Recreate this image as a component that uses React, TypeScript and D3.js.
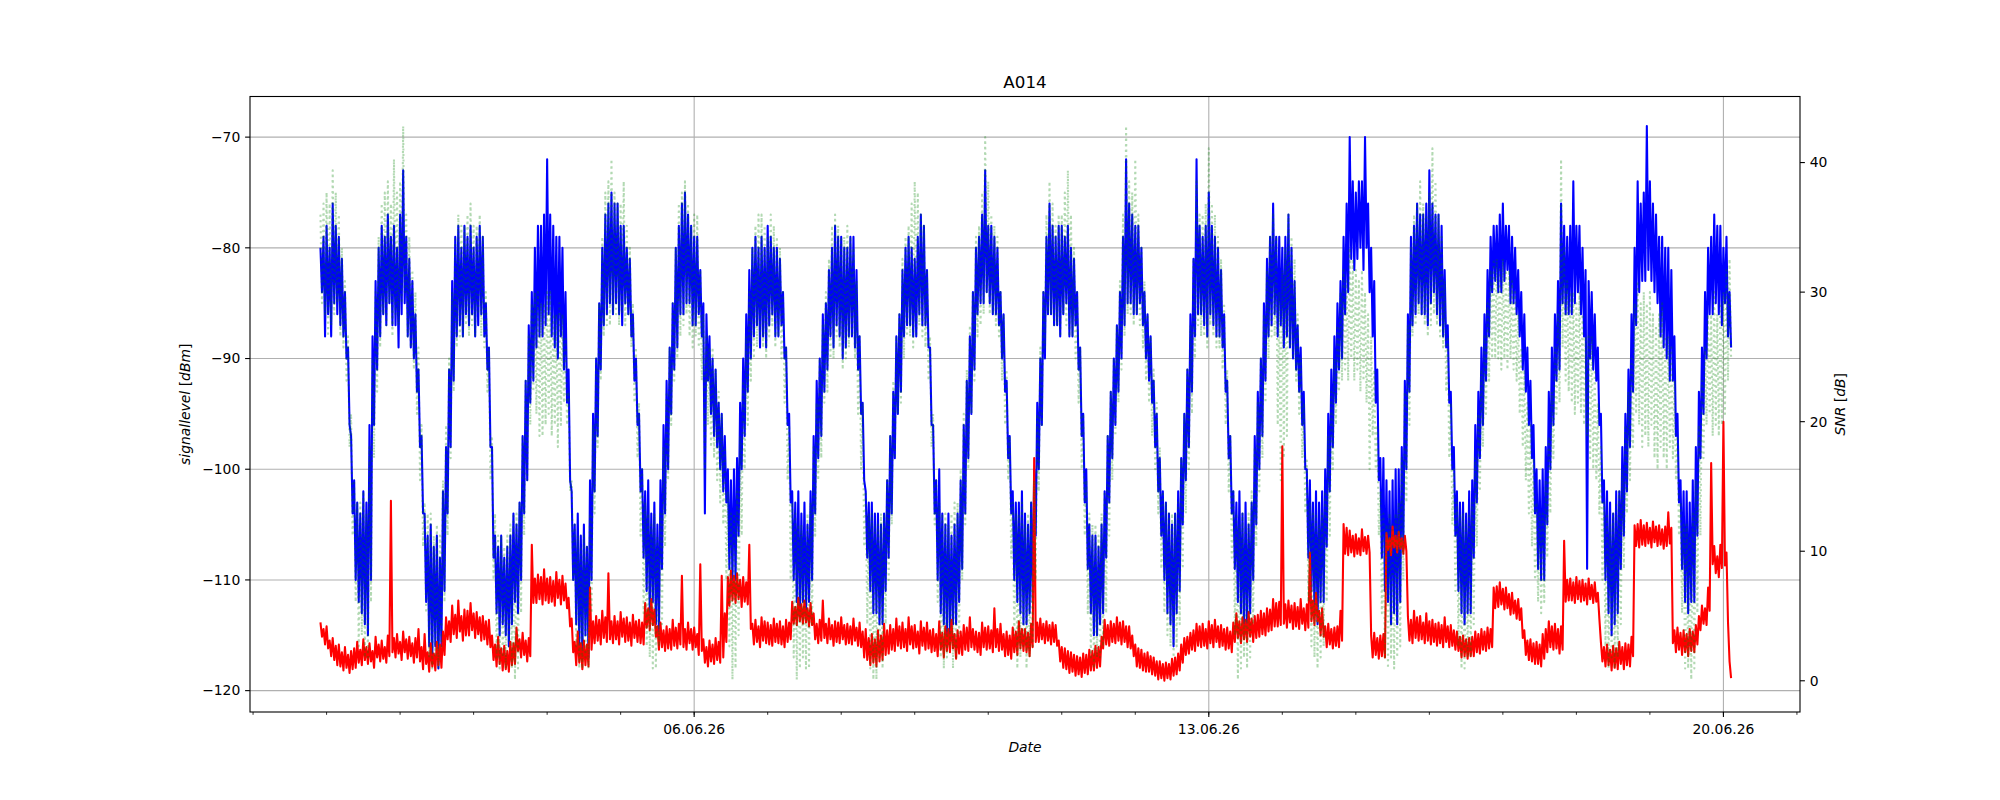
import * as d3 from "d3";

// hourly readings, first hour at startTime; each hour has an upper and a lower reading
// (the upper one at :00, the lower one at :30)
const startTime = "31.05.26 22:00";

// signal level [dBm], blue
const levelHigh = [
  -80, -79, -78, -80, -76, -78, -79, -81, -84, -89, -97, -101, -103, -104, -102, -103, -96, -88, -83, -80, -78, -79, -77, -79,
  -78, -80, -77, -73, -79, -81, -83, -86, -91, -97, -104, -106, -105, -107, -106, -108, -102, -98, -91, -83, -79, -78, -80, -78,
  -79, -78, -80, -79, -78, -79, -85, -89, -98, -106, -107, -106, -108, -107, -106, -104, -105, -103, -97, -92, -87, -84, -80, -78,
  -78, -77, -72, -77, -78, -79, -79, -80, -84, -91, -102, -105, -104, -106, -105, -107, -101, -95, -90, -85, -80, -77, -76, -75,
  -76, -76, -78, -78, -80, -81, -86, -90, -95, -100, -102, -101, -104, -103, -105, -101, -96, -92, -89, -85, -80, -78, -76, -75,
  -77, -78, -79, -79, -82, -85, -86, -88, -90, -91, -94, -95, -97, -100, -101, -100, -99, -94, -90, -86, -82, -80, -79, -80,
  -79, -80, -78, -79, -80, -80, -81, -84, -89, -95, -102, -103, -102, -104, -103, -105, -102, -97, -92, -90, -86, -85, -82, -80,
  -78, -79, -79, -80, -80, -79, -79, -82, -88, -94, -102, -103, -103, -104, -104, -105, -104, -101, -97, -93, -88, -86, -82, -80,
  -79, -80, -81, -79, -77, -78, -82, -89, -96, -101, -100, -104, -105, -104, -106, -105, -104, -101, -96, -92, -88, -84, -80, -79,
  -77, -73, -78, -78, -79, -80, -84, -86, -92, -97, -102, -103, -103, -102, -104, -105, -103, -100, -94, -90, -84, -79, -76, -78,
  -79, -78, -78, -79, -78, -80, -81, -84, -89, -95, -100, -105, -106, -106, -107, -105, -102, -97, -93, -90, -87, -84, -79, -72,
  -76, -77, -78, -78, -80, -84, -86, -88, -92, -95, -99, -102, -103, -104, -105, -104, -102, -99, -95, -91, -86, -81, -72, -78,
  -79, -78, -75, -78, -79, -80, -82, -86, -92, -97, -102, -103, -102, -104, -103, -105, -103, -97, -93, -90, -85, -81, -79, -76,
  -79, -79, -80, -79, -77, -80, -83, -87, -89, -93, -100, -101, -103, -102, -103, -102, -100, -95, -91, -88, -85, -83, -79, -76,
  -70, -74, -75, -74, -74, -70, -76, -80, -83, -91, -99, -99, -101, -102, -101, -100, -100, -98, -92, -86, -79, -78, -76, -77,
  -77, -76, -73, -76, -77, -77, -78, -82, -87, -93, -98, -102, -103, -103, -104, -102, -101, -96, -93, -89, -86, -82, -79, -78,
  -78, -77, -76, -78, -78, -79, -80, -82, -84, -86, -89, -92, -96, -100, -101, -100, -98, -93, -89, -86, -83, -76, -78, -79,
  -78, -74, -78, -78, -80, -82, -83, -84, -86, -89, -95, -101, -102, -103, -104, -102, -102, -98, -95, -91, -86, -80, -74, -76,
  -75, -69, -74, -76, -77, -79, -79, -80, -80, -82, -88, -95, -101, -102, -102, -103, -101, -98, -93, -89, -84, -80, -79, -77,
  -78, -78, -80, -79, -84,
];
const levelLow = [
  -84, -88, -86, -88, -85, -86, -87, -88, -90, -96, -104, -110, -112, -113, -114, -115, -110, -96, -91, -88, -86, -87, -85, -87,
  -87, -89, -86, -85, -88, -89, -90, -93, -98, -104, -112, -116, -117, -116, -118, -116, -111, -104, -98, -92, -88, -87, -88, -86,
  -87, -86, -88, -87, -86, -88, -91, -98, -108, -113, -115, -114, -115, -116, -114, -112, -113, -110, -104, -101, -94, -92, -89, -88,
  -88, -87, -86, -88, -89, -90, -88, -91, -94, -101, -110, -114, -116, -117, -115, -117, -110, -102, -97, -91, -87, -86, -85, -86,
  -85, -86, -87, -85, -86, -88, -92, -96, -102, -108, -111, -113, -112, -114, -115, -109, -104, -100, -95, -91, -89, -86, -86, -85,
  -85, -87, -87, -86, -88, -104, -92, -95, -97, -98, -100, -102, -103, -109, -110, -110, -106, -100, -97, -93, -90, -88, -87, -89,
  -88, -89, -87, -86, -88, -88, -87, -90, -96, -103, -110, -112, -113, -112, -113, -112, -110, -104, -99, -97, -93, -91, -88, -89,
  -87, -88, -90, -89, -88, -88, -89, -91, -95, -101, -108, -111, -113, -113, -114, -114, -111, -108, -104, -99, -95, -93, -88, -87,
  -87, -88, -88, -86, -87, -87, -89, -96, -104, -110, -113, -114, -115, -115, -114, -114, -112, -109, -104, -99, -95, -91, -86, -85,
  -85, -84, -85, -86, -86, -87, -90, -93, -99, -104, -110, -112, -113, -114, -114, -113, -112, -106, -100, -96, -90, -86, -86, -87,
  -87, -88, -86, -85, -88, -88, -87, -91, -97, -103, -109, -113, -115, -115, -114, -113, -108, -103, -99, -96, -93, -90, -87, -85,
  -85, -86, -86, -85, -87, -90, -92, -94, -98, -102, -106, -110, -113, -114, -116, -113, -111, -105, -101, -98, -93, -88, -86, -86,
  -87, -88, -86, -87, -88, -88, -89, -93, -99, -104, -109, -112, -113, -115, -114, -113, -110, -105, -100, -97, -92, -88, -87, -86,
  -88, -87, -89, -88, -89, -90, -91, -93, -96, -100, -108, -111, -113, -114, -112, -112, -107, -102, -98, -94, -91, -90, -86, -84,
  -81, -82, -81, -80, -82, -80, -84, -88, -94, -101, -108, -111, -112, -114, -113, -114, -112, -107, -100, -93, -87, -86, -85, -86,
  -86, -87, -85, -84, -86, -87, -88, -89, -94, -100, -106, -111, -113, -114, -113, -113, -108, -103, -99, -96, -92, -88, -84, -83,
  -84, -84, -83, -82, -85, -85, -86, -88, -91, -93, -96, -99, -104, -109, -110, -110, -105, -100, -96, -92, -91, -85, -86, -86,
  -86, -85, -84, -86, -88, -109, -90, -91, -92, -96, -103, -110, -113, -115, -114, -113, -109, -106, -102, -98, -93, -87, -84, -83,
  -83, -82, -83, -84, -85, -88, -89, -90, -92, -92, -97, -103, -109, -112, -113, -112, -112, -106, -99, -95, -90, -86, -86, -85,
  -86, -87, -85, -88, -89,
];

// second signal level [dBm], green dotted
const level2High = [
  -77, -76, -75, -76, -73, -75, -77, -80, -83, -88, -95, -101, -103, -103, -102, -104, -98, -90, -84, -79, -76, -75, -74, -76,
  -72, -75, -74, -69, -77, -79, -82, -84, -89, -96, -103, -104, -104, -106, -105, -106, -101, -96, -90, -84, -79, -77, -78, -78,
  -77, -76, -78, -78, -77, -79, -84, -89, -97, -104, -106, -106, -107, -106, -105, -104, -104, -103, -97, -92, -88, -85, -84, -84,
  -85, -85, -84, -84, -86, -86, -85, -86, -88, -93, -101, -105, -106, -107, -106, -107, -104, -96, -90, -85, -79, -75, -74, -72,
  -75, -76, -76, -74, -78, -80, -85, -89, -94, -100, -103, -104, -105, -104, -106, -104, -98, -93, -89, -85, -80, -76, -75, -74,
  -76, -78, -77, -77, -82, -86, -88, -89, -89, -91, -93, -95, -98, -102, -104, -104, -102, -97, -92, -88, -84, -80, -78, -77,
  -77, -78, -79, -77, -78, -79, -80, -84, -89, -96, -103, -104, -105, -105, -106, -104, -103, -98, -94, -90, -87, -84, -81, -78,
  -77, -78, -79, -79, -78, -79, -80, -83, -88, -94, -102, -104, -104, -105, -105, -104, -104, -101, -97, -92, -88, -86, -81, -79,
  -78, -76, -74, -75, -77, -78, -82, -88, -95, -101, -103, -104, -104, -105, -104, -103, -103, -100, -95, -91, -87, -84, -79, -78,
  -75, -70, -74, -77, -78, -79, -84, -86, -91, -97, -103, -104, -104, -103, -105, -104, -103, -101, -95, -89, -84, -77, -74, -76,
  -78, -77, -77, -75, -73, -77, -80, -84, -89, -95, -101, -104, -105, -105, -106, -104, -102, -97, -93, -90, -87, -83, -77, -69,
  -74, -75, -72, -77, -80, -83, -86, -88, -91, -94, -98, -102, -103, -104, -104, -104, -103, -99, -95, -91, -87, -81, -74, -77,
  -77, -76, -71, -76, -77, -79, -81, -85, -91, -97, -102, -104, -105, -104, -105, -104, -102, -98, -94, -90, -86, -82, -79, -77,
  -79, -84, -82, -80, -77, -79, -81, -86, -90, -94, -99, -103, -104, -104, -105, -104, -102, -97, -93, -90, -87, -84, -82, -83,
  -80, -81, -82, -83, -82, -84, -86, -88, -91, -96, -102, -104, -105, -104, -105, -104, -103, -99, -93, -87, -80, -77, -76, -74,
  -76, -77, -75, -71, -74, -77, -79, -83, -88, -94, -100, -103, -104, -104, -105, -104, -103, -99, -95, -91, -88, -85, -82, -81,
  -81, -82, -81, -82, -82, -83, -84, -86, -89, -91, -94, -96, -99, -103, -104, -104, -101, -97, -93, -89, -86, -72, -80, -83,
  -84, -84, -85, -84, -86, -88, -88, -88, -91, -94, -98, -103, -104, -105, -104, -103, -102, -100, -96, -93, -90, -85, -83, -85,
  -84, -85, -84, -86, -87, -86, -85, -88, -88, -89, -92, -97, -103, -105, -105, -106, -104, -101, -96, -92, -89, -86, -86, -84,
  -86, -85, -84, -82, -81,
];
const level2Low = [
  -85, -86, -88, -87, -86, -85, -88, -89, -92, -98, -106, -112, -116, -115, -117, -117, -112, -99, -93, -89, -86, -87, -85, -88,
  -86, -87, -85, -84, -88, -89, -91, -95, -101, -107, -113, -117, -118, -117, -118, -116, -112, -106, -99, -93, -89, -88, -88, -87,
  -88, -87, -88, -86, -88, -89, -93, -101, -110, -117, -118, -117, -118, -116, -118, -119, -118, -113, -106, -101, -96, -93, -95, -97,
  -97, -96, -95, -97, -96, -98, -96, -94, -96, -102, -110, -116, -118, -118, -117, -118, -113, -104, -98, -92, -88, -87, -87, -86,
  -86, -87, -86, -87, -86, -89, -94, -99, -106, -113, -116, -117, -118, -118, -116, -114, -107, -101, -96, -92, -90, -88, -87, -86,
  -88, -89, -88, -89, -92, -100, -96, -98, -99, -101, -103, -105, -110, -116, -119, -118, -115, -106, -100, -96, -92, -90, -89, -88,
  -89, -90, -88, -87, -89, -88, -90, -94, -101, -110, -117, -119, -118, -117, -118, -118, -114, -106, -101, -99, -94, -93, -90, -90,
  -88, -89, -91, -90, -89, -88, -90, -95, -100, -107, -114, -118, -119, -119, -117, -118, -114, -110, -105, -99, -95, -94, -90, -88,
  -88, -89, -88, -87, -88, -89, -92, -98, -105, -112, -117, -118, -117, -116, -118, -117, -115, -110, -105, -100, -95, -92, -88, -87,
  -86, -84, -86, -86, -87, -88, -92, -96, -101, -108, -115, -118, -117, -116, -118, -117, -116, -110, -102, -96, -89, -86, -86, -87,
  -87, -88, -86, -87, -88, -88, -90, -94, -100, -106, -113, -117, -118, -117, -117, -116, -113, -106, -101, -97, -94, -91, -88, -86,
  -86, -87, -86, -87, -89, -92, -94, -97, -100, -104, -109, -113, -115, -116, -117, -116, -114, -109, -104, -100, -95, -90, -87, -88,
  -88, -89, -87, -88, -89, -89, -91, -96, -102, -108, -115, -119, -118, -117, -118, -117, -114, -107, -102, -99, -94, -90, -88, -88,
  -96, -101, -99, -97, -89, -90, -92, -95, -99, -104, -112, -116, -117, -118, -117, -116, -112, -106, -100, -96, -93, -92, -91, -92,
  -90, -92, -91, -93, -92, -94, -100, -97, -100, -106, -113, -117, -118, -117, -118, -117, -116, -110, -103, -96, -88, -87, -86, -86,
  -87, -88, -87, -86, -87, -88, -89, -93, -99, -105, -111, -116, -118, -118, -117, -117, -114, -107, -102, -98, -95, -92, -90, -90,
  -90, -91, -90, -91, -90, -91, -92, -95, -98, -101, -104, -107, -110, -112, -113, -112, -108, -104, -99, -95, -94, -89, -92, -93,
  -94, -95, -94, -95, -96, -97, -99, -100, -101, -104, -110, -116, -118, -117, -118, -117, -114, -109, -104, -101, -98, -95, -96, -98,
  -97, -98, -96, -99, -100, -98, -99, -100, -98, -99, -101, -106, -113, -118, -118, -119, -118, -113, -106, -99, -96, -95, -97, -96,
  -97, -96, -95, -92, -90,
];

// SNR [dB], red
const snrHigh = [
  4.5, 4.0, 4.2, 3.1, 3.3, 2.7, 2.8, 2.2, 2.6, 2.0, 2.3, 2.5, 3.0, 2.4, 3.2, 2.6, 2.9, 2.3, 3.4, 2.8, 3.1, 2.6, 3.5, 13.9,
  3.3, 3.6, 3.0, 3.8, 3.2, 3.4, 2.9, 3.3, 4.0, 2.6, 3.6, 2.2, 2.9, 2.1, 3.0, 2.8, 3.8, 4.9, 4.6, 5.8, 5.1, 6.2, 5.0, 5.5,
  5.4, 6.0, 5.2, 5.3, 4.9, 5.0, 4.6, 4.7, 3.5, 2.8, 3.4, 2.5, 2.7, 2.3, 3.0, 2.9, 4.1, 3.2, 3.7, 3.1, 3.3, 10.5, 7.9, 8.2,
  8.0, 8.6, 7.9, 8.0, 7.7, 8.4, 7.8, 8.1, 7.5, 6.4, 4.8, 3.0, 3.8, 2.9, 3.1, 2.8, 7.2, 4.6, 5.0, 4.7, 5.4, 4.9, 8.3, 4.6,
  5.0, 4.6, 5.3, 4.8, 4.9, 4.5, 5.1, 4.6, 4.7, 4.5, 6.0, 5.6, 6.3, 5.5, 4.2, 4.5, 3.9, 4.2, 4.0, 4.7, 4.1, 4.4, 8.1, 4.0,
  4.5, 4.0, 4.1, 3.6, 9.0, 3.2, 2.6, 3.1, 2.8, 3.3, 3.0, 8.1, 5.2, 8.0, 8.5, 8.1, 8.3, 7.8, 8.0, 7.6, 10.5, 4.4, 4.7, 4.2,
  4.9, 4.6, 4.5, 4.3, 4.8, 4.4, 4.6, 4.2, 4.7, 4.5, 6.1, 5.7, 6.4, 5.9, 6.2, 5.6, 6.0, 5.2, 4.4, 4.7, 6.2, 4.4, 4.8, 4.3,
  4.6, 4.5, 4.9, 4.3, 4.4, 4.2, 4.8, 4.1, 4.5, 3.8, 4.0, 3.3, 3.6, 3.2, 3.9, 3.5, 4.4, 3.9, 4.3, 4.0, 4.8, 4.2, 4.5, 4.0,
  4.9, 4.2, 4.3, 3.8, 4.6, 4.1, 4.5, 3.9, 4.0, 3.6, 4.6, 3.7, 4.2, 4.0, 4.7, 3.6, 3.9, 3.8, 4.3, 4.1, 4.9, 4.0, 3.8, 3.7,
  4.5, 4.1, 4.2, 3.9, 5.6, 4.0, 4.4, 3.6, 3.8, 3.5, 4.1, 3.8, 4.6, 4.0, 4.0, 3.7, 4.4, 17.2, 4.5, 4.8, 4.4, 4.6, 4.3, 4.5,
  4.3, 3.1, 2.6, 2.5, 2.3, 2.2, 2.0, 1.9, 1.8, 2.1, 2.0, 2.4, 2.3, 2.7, 2.6, 3.4, 4.7, 4.3, 4.6, 4.4, 4.9, 4.5, 4.6, 4.2,
  4.2, 3.5, 2.8, 2.5, 2.4, 2.1, 2.2, 1.9, 1.8, 1.5, 1.5, 1.3, 1.4, 1.3, 1.7, 1.8, 2.1, 2.8, 3.3, 3.4, 3.7, 3.9, 4.4, 4.2,
  4.4, 4.0, 4.6, 4.3, 4.7, 4.2, 4.3, 4.0, 4.1, 3.8, 4.5, 5.2, 4.6, 4.9, 4.7, 5.3, 4.8, 5.0, 5.1, 5.4, 5.2, 5.6, 5.5, 6.3,
  6.0, 6.1, 18.1, 5.9, 6.2, 5.8, 6.0, 5.7, 6.3, 5.6, 5.9, 9.9, 6.2, 6.8, 5.4, 5.6, 4.2, 4.4, 4.0, 4.1, 4.2, 5.4, 12.1, 11.8,
  11.6, 11.2, 11.3, 11.0, 11.7, 11.1, 11.2, 3.5, 3.7, 3.3, 3.5, 3.6, 11.4, 11.0, 11.9, 11.2, 11.5, 11.0, 11.2, 5.0, 4.7, 5.4, 4.9, 5.0,
  4.5, 5.2, 4.6, 4.7, 4.4, 4.5, 4.3, 4.9, 4.2, 4.3, 3.9, 3.8, 3.4, 3.5, 3.2, 3.3, 3.4, 3.8, 3.6, 4.0, 3.8, 4.1, 4.0, 7.2,
  7.3, 7.6, 7.1, 7.2, 6.7, 6.8, 6.2, 6.3, 5.6, 3.9, 3.1, 3.2, 2.9, 3.0, 2.8, 3.6, 4.0, 4.6, 4.2, 4.4, 4.0, 4.2, 10.8, 7.8,
  7.9, 7.6, 8.0, 7.7, 7.8, 7.5, 7.9, 7.4, 7.6, 6.8, 3.0, 2.6, 2.8, 2.4, 2.7, 2.5, 3.0, 2.6, 2.9, 2.8, 3.4, 12.0, 12.1, 12.4,
  12.0, 12.2, 11.8, 12.3, 11.9, 12.0, 11.7, 11.9, 13.0, 11.8, 3.9, 4.1, 3.7, 3.9, 3.6, 4.0, 3.8, 4.3, 5.0, 5.8, 5.6, 7.2, 16.8, 10.4,
  9.6, 10.5, 20.0, 9.9, 1.5,
];
const snrLow = [
  3.4, 2.8, 2.5, 1.9, 1.6, 1.2, 1.1, 0.8, 1.0, 0.6, 0.9, 1.0, 1.4, 1.2, 1.6, 1.3, 1.5, 1.0, 1.8, 1.5, 1.7, 1.4, 1.9, 2.2,
  1.8, 2.1, 1.6, 2.2, 1.7, 1.9, 1.4, 1.8, 1.5, 0.9, 1.3, 0.7, 1.1, 0.8, 1.2, 1.0, 2.0, 3.2, 3.0, 3.6, 3.3, 3.8, 3.1, 3.5,
  3.5, 3.9, 3.3, 3.6, 3.1, 3.2, 2.8, 2.6, 1.6, 1.1, 1.3, 0.8, 0.9, 0.7, 1.2, 1.3, 2.3, 1.8, 2.0, 1.5, 1.9, 6.0, 6.0, 6.3,
  5.9, 6.2, 6.0, 6.1, 5.8, 6.4, 5.9, 6.2, 5.6, 4.2, 2.2, 1.2, 1.4, 0.9, 1.2, 1.1, 2.4, 2.9, 3.1, 2.8, 3.3, 3.0, 3.2, 2.9,
  3.2, 2.8, 3.4, 3.0, 3.1, 2.7, 3.3, 3.0, 2.9, 2.8, 4.1, 3.9, 4.3, 3.4, 2.4, 2.6, 2.3, 2.5, 2.4, 2.7, 2.5, 2.8, 2.6, 2.4,
  2.9, 2.4, 2.6, 2.0, 2.3, 1.4, 1.1, 1.5, 1.3, 1.6, 1.4, 1.8, 3.0, 5.8, 6.2, 6.0, 6.3, 5.7, 6.1, 5.9, 4.0, 2.8, 3.0, 2.6,
  3.1, 2.9, 2.8, 2.7, 3.0, 2.9, 2.8, 2.6, 3.0, 3.2, 4.4, 4.3, 4.6, 4.4, 4.5, 4.2, 4.3, 3.2, 2.9, 3.1, 3.3, 2.9, 3.2, 2.7,
  3.0, 2.9, 3.2, 2.8, 2.9, 2.8, 3.1, 2.7, 2.6, 1.8, 1.6, 1.2, 1.4, 1.1, 1.5, 1.6, 2.0, 2.1, 2.4, 2.3, 2.7, 2.5, 2.6, 2.3,
  2.8, 2.5, 2.6, 2.1, 2.7, 2.4, 2.5, 2.2, 2.3, 1.9, 2.4, 1.8, 2.3, 2.2, 2.5, 1.7, 2.1, 2.0, 2.4, 2.3, 2.6, 2.4, 2.2, 2.0,
  2.6, 2.4, 2.5, 2.2, 2.6, 2.3, 2.4, 1.9, 2.0, 1.7, 2.2, 2.0, 2.5, 2.3, 2.2, 1.9, 2.6, 3.0, 3.0, 3.2, 2.9, 3.1, 2.8, 3.0,
  2.7, 1.5, 1.0, 0.9, 0.6, 0.7, 0.4, 0.5, 0.3, 0.6, 0.5, 0.8, 0.8, 1.0, 1.1, 2.5, 2.8, 2.7, 3.0, 2.9, 3.1, 2.8, 3.0, 2.6,
  2.5, 1.9, 1.1, 1.0, 0.8, 0.7, 0.7, 0.5, 0.4, 0.1, 0.2, 0.0, 0.2, 0.1, 0.4, 0.5, 0.8, 1.4, 2.0, 2.1, 2.4, 2.3, 2.7, 2.6,
  2.7, 2.5, 2.9, 2.6, 3.0, 2.6, 2.7, 2.4, 2.5, 2.2, 3.0, 3.3, 2.9, 3.2, 3.0, 3.4, 3.0, 3.3, 3.4, 3.6, 3.5, 3.8, 3.9, 4.2,
  4.2, 4.3, 4.4, 4.1, 4.5, 4.0, 4.2, 4.0, 4.4, 3.9, 4.1, 4.6, 4.3, 4.6, 3.5, 3.4, 2.6, 2.8, 2.5, 2.7, 2.6, 3.1, 9.8, 9.7,
  9.9, 9.6, 9.8, 9.7, 10.0, 9.8, 9.9, 1.8, 2.0, 1.7, 1.9, 1.8, 10.1, 9.7, 10.3, 9.9, 10.2, 9.8, 10.0, 3.1, 2.9, 3.3, 3.1, 3.2,
  2.9, 3.1, 2.8, 3.0, 2.7, 2.9, 2.6, 3.0, 2.6, 2.7, 2.4, 2.3, 1.8, 1.9, 1.7, 1.9, 1.9, 2.2, 2.1, 2.4, 2.3, 2.5, 2.6, 5.6,
  5.7, 5.9, 5.5, 5.6, 5.1, 5.2, 4.8, 4.7, 3.3, 2.0, 1.6, 1.5, 1.3, 1.3, 1.1, 1.7, 2.2, 2.6, 2.4, 2.5, 2.1, 2.4, 6.1, 6.2,
  6.2, 6.0, 6.3, 6.1, 6.2, 5.9, 6.3, 6.0, 6.1, 4.8, 1.5, 1.1, 1.2, 0.8, 1.0, 0.9, 1.3, 0.9, 1.2, 1.1, 1.9, 10.4, 10.3, 10.5,
  10.4, 10.6, 10.3, 10.7, 10.4, 10.5, 10.2, 10.4, 10.6, 2.9, 2.2, 2.4, 2.0, 2.2, 1.9, 2.3, 2.2, 2.8, 3.9, 4.4, 4.3, 5.4, 9.0, 8.3,
  8.0, 8.7, 8.9, 4.5, 0.2,
];

const dateTickLabels = ["06.06.26", "13.06.26", "20.06.26"];
const levelTicks = [-120, -110, -100, -90, -80, -70];
const snrTicks = [0, 10, 20, 30, 40];

const W = 2000;
const H = 800;
const left = 250;
const right = 1800;
const top = 96.5;
const bottom = 712;
const font = "DejaVu Sans, sans-serif";

const minus = (v: number) => (v < 0 ? "\u2212" + Math.abs(v) : String(v));

type Pt = { t: Date; v: number };

export default function App() {
  const t0 = d3.timeParse("%d.%m.%y %H:%M")(startTime)!;
  // upper reading at :00, lower reading at :30 of each hour
  const trace = (hi: number[], lo: number[]): Pt[] =>
    hi.flatMap((v, i) => [
      { t: d3.timeHour.offset(t0, i), v },
      { t: d3.timeMinute.offset(t0, i * 60 + 30), v: lo[i] },
    ]);
  const blue = trace(levelHigh, levelLow);
  const green = trace(level2High, level2Low);
  const red = trace(snrHigh, snrLow);

  const tEnd = d3.timeHour.offset(t0, levelHigh.length - 1);
  const pad = (+tEnd - +t0) * 0.05;
  const x = d3
    .scaleTime()
    .domain([new Date(+t0 - pad), new Date(+tEnd + pad)])
    .range([left, right]);
  const yL = d3.scaleLinear().domain([-121.93, -66.33]).range([bottom, top]);
  const yR = d3.scaleLinear().domain([-2.41, 45.1]).range([bottom, top]);

  const parseDay = d3.timeParse("%d.%m.%y");
  const majorTicks = dateTickLabels.map((s) => ({ d: parseDay(s)!, s }));
  const [d0, d1] = x.domain();
  const minorTicks = d3.timeDay.range(d3.timeDay.ceil(d0), d1);

  const lineL = d3
    .line<Pt>()
    .x((d) => x(d.t))
    .y((d) => yL(d.v));
  const lineR = d3
    .line<Pt>()
    .x((d) => x(d.t))
    .y((d) => yR(d.v));

  return (
    <svg
      width={W}
      height={H}
      style={{ position: "absolute", left: 0, top: 0, background: "#fff" }}
      fontFamily={font}
    >
      <defs>
        <clipPath id="plot">
          <rect x={left} y={top} width={right - left} height={bottom - top} />
        </clipPath>
      </defs>
      <rect width={W} height={H} fill="#fff" />

      {/* grid */}
      {levelTicks.map((v) => (
        <line key={"gy" + v} x1={left} x2={right} y1={yL(v)} y2={yL(v)} stroke="#b0b0b0" strokeWidth={1.1} />
      ))}
      {majorTicks.map((m) => (
        <line key={"gx" + m.s} x1={x(m.d)} x2={x(m.d)} y1={top} y2={bottom} stroke="#b0b0b0" strokeWidth={1.1} />
      ))}

      <g clipPath="url(#plot)" fill="none" strokeLinejoin="round">
        <path d={lineL(blue) || ""} stroke="#0000ff" strokeWidth={2.08} />
        <path d={lineR(red) || ""} stroke="#ff0000" strokeWidth={2.08} />
        <path
          d={lineL(green) || ""}
          stroke="#008000"
          strokeOpacity={0.3}
          strokeWidth={2.08}
          strokeDasharray="2.1 3.4"
        />
      </g>

      {/* spines */}
      <rect x={left} y={top} width={right - left} height={bottom - top} fill="none" stroke="#000" strokeWidth={1.1} />

      {/* left axis */}
      {levelTicks.map((v) => (
        <g key={"ly" + v}>
          <line x1={left - 4.9} x2={left} y1={yL(v)} y2={yL(v)} stroke="#000" strokeWidth={1.1} />
          <text x={left - 9.7} y={yL(v)} dy="0.35em" textAnchor="end" fontSize={13.9}>
            {minus(v)}
          </text>
        </g>
      ))}
      <text transform={`translate(190,${(top + bottom) / 2}) rotate(-90)`} textAnchor="middle" fontSize={13.9}>
        <tspan fontStyle="italic">signallevel</tspan> [<tspan fontStyle="italic">dBm</tspan>]
      </text>

      {/* right axis */}
      {snrTicks.map((v) => (
        <g key={"ry" + v}>
          <line x1={right} x2={right + 4.9} y1={yR(v)} y2={yR(v)} stroke="#000" strokeWidth={1.1} />
          <text x={right + 9.7} y={yR(v)} dy="0.35em" textAnchor="start" fontSize={13.9}>
            {minus(v)}
          </text>
        </g>
      ))}
      <text transform={`translate(1845,${(top + bottom) / 2}) rotate(-90)`} textAnchor="middle" fontSize={13.9}>
        <tspan fontStyle="italic">SNR</tspan> [<tspan fontStyle="italic">dB</tspan>]
      </text>

      {/* x axis */}
      {minorTicks.map((d) => (
        <line key={"mx" + +d} x1={x(d)} x2={x(d)} y1={bottom} y2={bottom + 2.8} stroke="#000" strokeWidth={0.83} />
      ))}
      {majorTicks.map((m) => (
        <g key={"tx" + m.s}>
          <line x1={x(m.d)} x2={x(m.d)} y1={bottom} y2={bottom + 4.9} stroke="#000" strokeWidth={1.1} />
          <text x={x(m.d)} y={734} textAnchor="middle" fontSize={13.9}>
            {d3.timeFormat("%d.%m.%y")(m.d)}
          </text>
        </g>
      ))}
      <text x={(left + right) / 2} y={752} textAnchor="middle" fontSize={13.9} fontStyle="italic">
        Date
      </text>

      <text x={(left + right) / 2} y={88} textAnchor="middle" fontSize={16.7}>
        A014
      </text>
    </svg>
  );
}
